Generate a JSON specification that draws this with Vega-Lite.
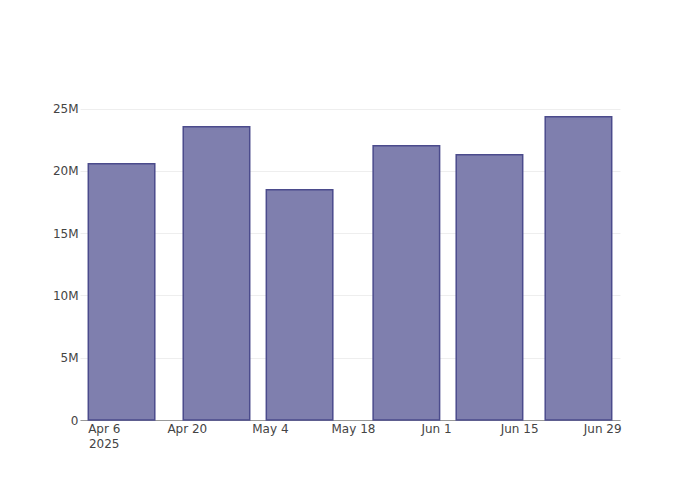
{
  "$schema": "https://vega.github.io/schema/vega-lite/v6.json",
  "width": 540,
  "height": 320,
  "autosize": {"type": "none"},
  "padding": {"left": 80, "right": 80, "top": 100, "bottom": 80},
  "background": "white",
  "config": {
    "view": {"stroke": null},
    "font": "DejaVu Sans",
    "axis": {"labelFont": "DejaVu Sans", "labelFontSize": 12, "labelColor": "#444"}
  },
  "data": {
    "values": [
      {"date": "2025-04-09", "value": 20580000},
      {"date": "2025-04-25", "value": 23550000},
      {"date": "2025-05-09", "value": 18490000},
      {"date": "2025-05-27", "value": 22030000},
      {"date": "2025-06-10", "value": 21300000},
      {"date": "2025-06-25", "value": 24360000}
    ]
  },
  "mark": {"type": "bar", "width": 66.5, "fill": "#7f7fae", "stroke": "#4b4b8c", "strokeWidth": 1.5},
  "encoding": {
    "x": {
      "field": "date",
      "type": "temporal",
      "scale": {"type": "utc", "domain": ["2025-04-02", "2025-07-02"], "padding": 0},
      "axis": {
        "title": null,
        "grid": false,
        "ticks": false,
        "domainColor": "#999",
        "domainWidth": 1,
        "labelPadding": 3,
        "labelAlign": "center",
        "labelBaseline": "top",
        "labelLineHeight": 15,
        "labelFlush": false,
        "labelOverlap": false,
        "values": [
          {"year": 2025, "month": 4, "date": 6, "utc": true},
          {"year": 2025, "month": 4, "date": 20, "utc": true},
          {"year": 2025, "month": 5, "date": 4, "utc": true},
          {"year": 2025, "month": 5, "date": 18, "utc": true},
          {"year": 2025, "month": 6, "date": 1, "utc": true},
          {"year": 2025, "month": 6, "date": 15, "utc": true},
          {"year": 2025, "month": 6, "date": 29, "utc": true}
        ],
        "labelExpr": "datum.index == 0 ? [utcFormat(datum.value, '%b %-d'), '2025'] : utcFormat(datum.value, '%b %-d')"
      }
    },
    "y": {
      "field": "value",
      "type": "quantitative",
      "scale": {"domain": [0, 25700000], "nice": false},
      "axis": {
        "title": null,
        "values": [0, 5000000, 10000000, 15000000, 20000000, 25000000],
        "labelExpr": "datum.value == 0 ? '0' : format(datum.value, '~s')",
        "ticks": false,
        "domain": false,
        "gridColor": "#eeeeee",
        "gridWidth": 1,
        "labelPadding": 2
      }
    }
  }
}
